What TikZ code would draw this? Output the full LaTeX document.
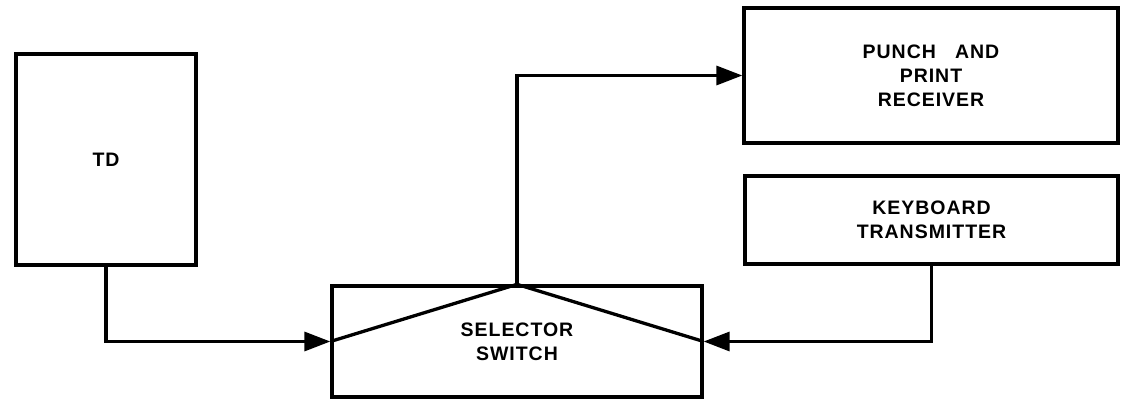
\documentclass[tikz,border=0pt]{standalone}
\usepackage{fontspec}
\setmainfont{Liberation Sans}[LetterSpace=5]
\usetikzlibrary{arrows.meta}

\tikzstyle{block}=[rectangle,draw,line width=3.3pt,align=center,
font=\fontsize{19.5}{24}\selectfont\bfseries]
\tikzstyle{line} = [draw, line width=3.3pt]
\tikzstyle{arrow} = [line, -{Triangle[length=26pt,width=19pt]}]

\begin{document}
\begin{tikzpicture}[x=1pt,y=-1pt]
\useasboundingbox (0,0) rectangle (1127,402);
\node [block,minimum width=180pt,minimum height=211pt] (td) at (106,159.5) {TD};
\node [block,minimum width=374pt,minimum height=135pt] (receiver) at (931,75.5) {PUNCH\ \ \ AND\\PRINT\\RECEIVER};
\node [block,minimum width=373pt,minimum height=88pt] (keyboard) at (931.5,220) {KEYBOARD\\TRANSMITTER};
\node [block,minimum width=370pt,minimum height=111pt] (selector) at (517,341.5) {SELECTOR\\SWITCH};
\path [arrow] (td.south) |- (selector.west);
\path [arrow] (keyboard.south) |- (selector.east);
\path [line] (selector.west) -- (selector.north) -- (selector.east);
\path [arrow] (selector.north) |- (receiver.west);
\end{tikzpicture}
\end{document}
